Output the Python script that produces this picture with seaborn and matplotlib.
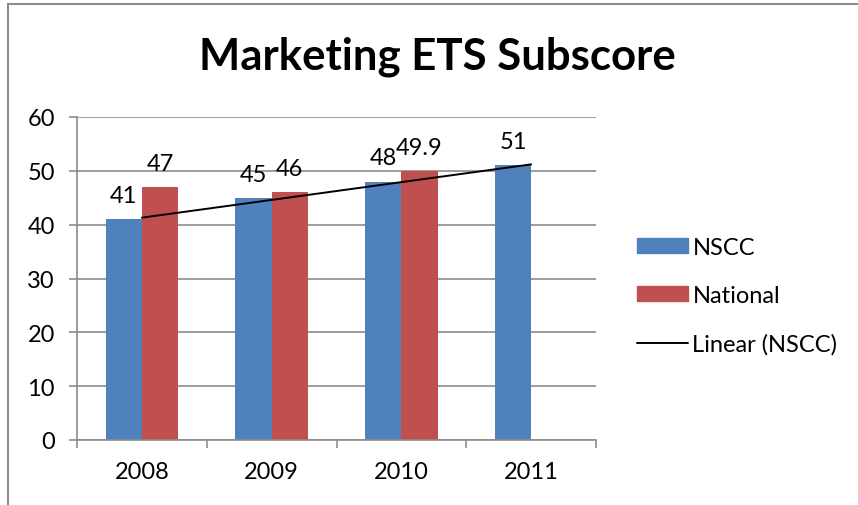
import numpy as np
import pandas as pd
import matplotlib
matplotlib.use("Agg")
import matplotlib.pyplot as plt
from matplotlib.patches import Patch, Rectangle
from matplotlib.lines import Line2D
import seaborn as sns

years = ["2008", "2009", "2010", "2011"]
nscc = [41, 45, 48, 51]
national_years = ["2008", "2009", "2010"]
national = [47, 46, 49.9]

series_names = ["NSCC", "National"]
colors = ["#4F81BD", "#C0504D"]
grey = "#8C8C8C"

sns.set_style("white")
plt.rcParams["font.family"] = ["Lato", "DejaVu Sans"]
plt.rcParams["text.color"] = "black"
plt.rcParams["xtick.color"] = "black"
plt.rcParams["ytick.color"] = "black"

df = pd.DataFrame({
    "year": years + national_years,
    "score": nscc + national,
    "series": ["NSCC"] * len(nscc) + ["National"] * len(national),
})

fig = plt.figure(figsize=(8.58, 5.06), dpi=100)
ax = fig.add_axes([77 / 858, 1 - 441 / 506, (596 - 77) / 858, (441 - 118) / 506])

sns.barplot(data=df, x="year", y="score", hue="series", hue_order=series_names,
            order=years, palette=colors, width=0.56, saturation=1, linewidth=0,
            errorbar=None, legend=False, ax=ax, zorder=2)

for cont in ax.containers:
    ax.bar_label(cont, fmt="%g", padding=9.5, fontsize=17, color="black")

# linear trend on NSCC, like Excel's trendline
xs = np.arange(len(nscc))
slope, icpt = np.polyfit(xs, nscc, 1)
ax.plot(xs, slope * xs + icpt, color="black", lw=1.4, zorder=3)

ax.set_xlim(-0.5, len(years) - 0.5)
ax.set_ylim(0, 60)
ax.set_yticks(range(0, 61, 10))
ax.set_xlabel("")
ax.set_ylabel("")
ax.yaxis.grid(True, color=grey, lw=1.2)
ax.set_axisbelow(True)

for side in ["top", "right"]:
    ax.spines[side].set_visible(False)
for side in ["left", "bottom"]:
    ax.spines[side].set_color(grey)
    ax.spines[side].set_linewidth(1.2)

ax.tick_params(axis="y", length=6, width=1.2, color=grey, labelsize=17, pad=10, left=True)
ax.tick_params(axis="x", which="major", length=0, labelsize=17, pad=15)
ax.set_xticks(np.arange(-0.5, len(years)), minor=True)
ax.tick_params(axis="x", which="minor", length=6, width=1.2, color=grey, bottom=True)

fig.text(437 / 858, 1 - 57 / 506, "Marketing ETS Subscore", ha="center", va="center",
         fontsize=31.5, fontweight="bold", color="black")

handles = [Patch(color=colors[0]), Patch(color=colors[1]),
           Line2D([], [], color="black", lw=1.4)]
fig.legend(handles, ["NSCC", "National", "Linear (NSCC)"], loc="center left",
           bbox_to_anchor=(637 / 858, 1 - 297 / 506), frameon=False, fontsize=17,
           borderpad=0, borderaxespad=0, handlelength=2.15, handleheight=0.6,
           handletextpad=0.2, labelspacing=1.15)

# outer chart border
fig.add_artist(Rectangle((8 / 858, -0.1), 1.2, 1 - 5 / 506 + 0.1, transform=fig.transFigure,
                         fill=False, edgecolor=grey, lw=1.5))

fig.savefig("out.png", dpi=100)
